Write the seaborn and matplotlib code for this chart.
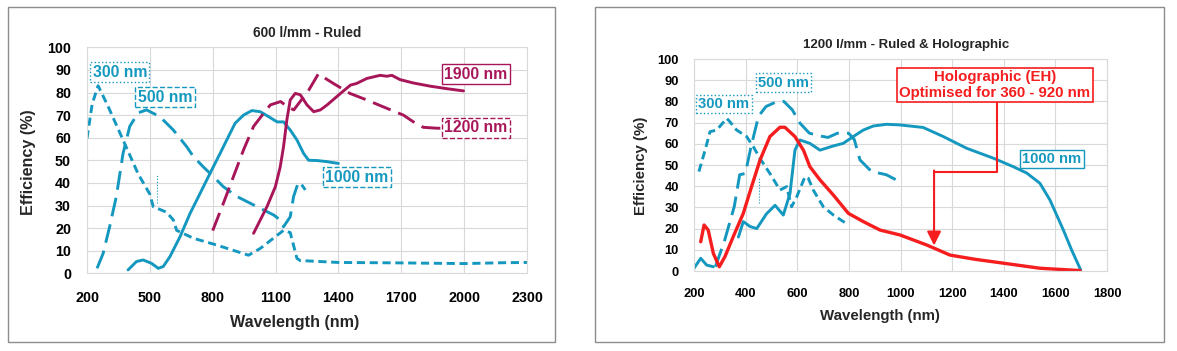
import numpy as np
import matplotlib
matplotlib.use('Agg')
import matplotlib.pyplot as plt
import seaborn as sns
from matplotlib.patches import Rectangle

# ---- 600 l/mm - Ruled (left panel) ----
l300_wl = [200, 225, 253, 300, 372, 444, 500, 516, 580, 612, 628, 708, 819, 971, 1027, 1138, 1170, 1202, 1218, 1250, 1400, 1700, 2000, 2200, 2300]
l300_ef = [59.7, 75, 83, 74, 59, 44, 35, 29.5, 27, 23.6, 19, 15.5, 12.5, 8, 11, 19, 18, 6.6, 5.6, 5.5, 4.8, 4.6, 4.3, 4.7, 4.8]

l500_wl = [248, 277, 308, 340, 372, 404, 444, 484, 548, 612, 676, 708, 756, 803, 851, 915, 979, 1043, 1091, 1122, 1138, 1170, 1186, 1210, 1226, 1242]
l500_ef = [2.2, 8.8, 20.6, 34, 53, 65, 71, 72.3, 69.3, 63.4, 56, 51.6, 47, 42.8, 38.3, 34, 31, 28, 25.8, 23.6, 20.6, 25, 34, 40.6, 39, 36.9]

l1000_wl = [396, 436, 468, 508, 540, 564, 596, 644, 692, 740, 787, 835, 875, 907, 947, 987, 1027, 1067, 1107, 1138, 1170, 1202, 1234, 1258, 1298, 1346, 1400]
l1000_ef = [1.5, 5.2, 5.9, 4.4, 2.2, 3, 7.4, 16.2, 26.5, 35.4, 44.2, 53, 60.5, 66.4, 70, 72, 71.5, 69.3, 67, 67, 63.4, 59, 53, 50, 49.9, 49.4, 48.6]

l1200_wl = [800, 851, 899, 947, 995, 1043, 1075, 1124, 1160, 1187, 1258, 1304, 1376, 1455, 1535, 1631, 1710, 1758, 1805, 1869, 1893]
l1200_ef = [18.9, 31, 42.8, 54.6, 65, 70.8, 74.5, 76, 73.5, 72.3, 81, 88.2, 84, 79.6, 76.7, 73, 70, 67, 64.6, 64.2, 64.2]

l1900_wl = [995, 1059, 1099, 1122, 1138, 1154, 1170, 1194, 1218, 1250, 1282, 1314, 1346, 1410, 1458, 1487, 1535, 1599, 1631, 1655, 1694, 1758, 1838, 1917, 1997]
l1900_ef = [17.7, 29.5, 38.3, 47, 56, 68, 76.7, 79.6, 79, 74.5, 71.5, 72.3, 74.5, 79.6, 83.3, 84, 86.2, 87.6, 87.2, 87.6, 85.7, 84.2, 82.8, 81.7, 80.7]

# ---- 1200 l/mm - Ruled & Holographic (right panel) ----
r300_wl = [219, 243, 262, 288, 327, 339, 365, 404, 430, 456, 494, 533, 559, 578, 598, 630, 643, 662, 701, 740, 785]
r300_ef = [46.9, 57, 65.7, 66.5, 72, 70.4, 66.5, 63.4, 58.6, 53, 46, 38.2, 39.8, 30.3, 35, 44.5, 43.7, 38.2, 30.3, 26.4, 22.8]

r500_wl = [283, 319, 356, 377, 399, 421, 450, 479, 523, 548, 581, 610, 647, 697, 719, 756, 799, 821, 843, 887, 945, 996]
r500_ef = [2, 14.6, 30.4, 45.4, 46, 58.7, 73, 77.6, 80, 80, 76, 69.8, 65, 63.5, 63, 65, 65, 62, 52.4, 47, 45.4, 42.2]

r1000a_wl = [200, 226, 249, 275]
r1000a_ef = [1.3, 6, 2.8, 2]
r1000_wl = [372, 391, 417, 443, 481, 514, 546, 572, 591, 610, 649, 688, 740, 778, 817, 856, 895, 946, 998, 1088,
            1166, 1256, 1360, 1437, 1489, 1540, 1579, 1631, 1663, 1698]
r1000_ef = [16, 23.3, 21, 20, 27, 31, 26.4, 36.6, 57, 61.8, 60.2, 57, 59, 60.2, 63.4, 66.5, 68.4, 69.2, 68.9, 67.7,
            63.4, 57.9, 53.2, 49.2, 46.2, 41.4, 33.5, 19.3, 9.9, 0.5]

rholo_wl = [226, 239, 255, 275, 298, 320, 352, 391, 423, 456, 494, 533, 552, 591, 624, 649, 688, 740, 798, 856, 921,
            998, 1101, 1192, 1290, 1386, 1540, 1696]
rholo_ef = [13.8, 21.7, 19.3, 8.3, 2, 6.8, 16.2, 27.2, 39.8, 52.4, 63.4, 67.8, 67.8, 63.4, 57, 49.2, 43, 35.8, 27.2, 23.3, 19.3,
            17, 12.3, 7.5, 5.5, 3.9, 1.3, 0.2]

TEAL = '#1598bf'
MAG = '#a8165a'
RED = '#f51d1d'
SHORT = (0, (2.8, 1.6))
LONG = (0, (6.5, 2.8))

sns.set_theme(style="whitegrid")
plt.rcParams['font.family'] = ['Liberation Sans', 'DejaVu Sans']
plt.rcParams['font.weight'] = 'bold'

fig = plt.figure(figsize=(11.77, 3.51), dpi=100)
W, H = 1177, 351


def ax_at(x0, y0, x1, y1):
    return fig.add_axes([x0 / W, 1 - y1 / H, (x1 - x0) / W, (y1 - y0) / H])


def line(ax, x, y, color, ls='-', lw=2.1):
    sns.lineplot(x=x, y=y, ax=ax, color=color, linestyle=ls, linewidth=lw,
                 estimator=None, sort=False)


def style(ax, xlim, xstep, fs, xpad, ypad):
    ax.set_xlim(*xlim)
    ax.set_ylim(0, 100)
    ax.set_xticks(np.arange(xlim[0], xlim[1] + 1, xstep))
    ax.set_yticks(np.arange(0, 101, 10))
    ax.grid(True, color='#d9d9d9', linewidth=0.8)
    for s in ax.spines.values():
        s.set_color('#d9d9d9')
        s.set_linewidth(0.8)
    ax.tick_params(axis='x', length=0, pad=xpad, labelsize=fs, labelcolor='black')
    ax.tick_params(axis='y', length=0, pad=ypad, labelsize=fs, labelcolor='black')
    for t in ax.get_xticklabels() + ax.get_yticklabels():
        t.set_fontweight('bold')
    ax.set_xlabel('')
    ax.set_ylabel('')


def tag(ax, x, y, s, color, ls, fs):
    ax.text(x, y, s, color=color, fontsize=fs, fontweight='bold', ha='center', va='center',
            bbox=dict(boxstyle='square,pad=0.15', fc='white', ec=color, ls=ls, lw=1.0), zorder=5)


# left panel
axL = ax_at(87, 47.3, 527, 273.3)
line(axL, l300_wl, l300_ef, TEAL, SHORT)
line(axL, l500_wl, l500_ef, TEAL, LONG)
line(axL, l1000_wl, l1000_ef, TEAL)
line(axL, l1200_wl, l1200_ef, MAG, LONG)
line(axL, l1900_wl, l1900_ef, MAG)
axL.vlines(532, 31, 44, color=TEAL, linestyle=':', linewidth=0.8)
style(axL, (200, 2300), 300, 10.3, 13, 11.5)
tag(axL, 357, 89, '300 nm', TEAL, ':', 11.3)
tag(axL, 572, 78, '500 nm', TEAL, '--', 11.3)
tag(axL, 1489, 42.6, '1000 nm', TEAL, '--', 11.3)
tag(axL, 2057, 88.1, '1900 nm', MAG, '-', 11.3)
tag(axL, 2057, 64.3, '1200 nm', MAG, '--', 11.3)
fig.text(307 / W, 1 - 33 / H, '600 l/mm - Ruled', ha='center', va='center', fontsize=9.8, fontweight='bold')
fig.text(295 / W, 1 - 322 / H, 'Wavelength (nm)', ha='center', va='center', fontsize=11.6, fontweight='bold')
fig.text(29 / W, 1 - 162 / H, 'Efficiency (%)', ha='center', va='center', rotation=90, fontsize=11.6, fontweight='bold')

# right panel
axR = ax_at(694, 59, 1107, 271)
line(axR, r300_wl, r300_ef, TEAL, SHORT)
line(axR, r500_wl, r500_ef, TEAL, LONG)
line(axR, r1000a_wl, r1000a_ef, TEAL)
line(axR, r1000_wl, r1000_ef, TEAL)
line(axR, rholo_wl, rholo_ef, RED, '-', 2.4)
axR.vlines(453, 32, 44.5, color=TEAL, linestyle=':', linewidth=0.8)
style(axR, (200, 1800), 200, 9.3, 12, 11)
tag(axR, 316, 78.8, '300 nm', TEAL, ':', 10.6)
tag(axR, 547, 88.9, '500 nm', TEAL, ':', 10.6)
tag(axR, 1587, 52.8, '1000 nm', TEAL, '-', 10.6)
axR.text(1366, 87.8, 'Holographic (EH)\nOptimised for 360 - 920 nm', color=RED, fontsize=10.8,
         fontweight='bold', ha='center', va='center', linespacing=1.15,
         bbox=dict(boxstyle='square,pad=0.15', fc='white', ec=RED, lw=1.2), zorder=5)
axR.plot([1374, 1374, 1130], [79.5, 46.7, 46.7], color=RED, lw=1.5)
axR.annotate('', xy=(1130, 12.0), xytext=(1130, 47.4),
             arrowprops=dict(arrowstyle='-|>,head_length=0.7,head_width=0.35', color=RED, lw=1.5,
                             shrinkA=0, shrinkB=0))
fig.text(906 / W, 1 - 45 / H, '1200 l/mm - Ruled & Holographic', ha='center', va='center', fontsize=9.5, fontweight='bold')
fig.text(880 / W, 1 - 316 / H, 'Wavelength (nm)', ha='center', va='center', fontsize=10.8, fontweight='bold')
fig.text(641 / W, 1 - 166 / H, 'Efficiency (%)', ha='center', va='center', rotation=90, fontsize=10.8, fontweight='bold')

# panel frames
for x0, x1 in [(8, 555), (595, 1164)]:
    fig.patches.append(Rectangle((x0 / W, 1 - 342 / H), (x1 - x0) / W, (342 - 7) / H,
                                 transform=fig.transFigure, fill=False, ec='#8c8c8c', lw=1.0))

fig.savefig('out.png', dpi=100, facecolor='white')
